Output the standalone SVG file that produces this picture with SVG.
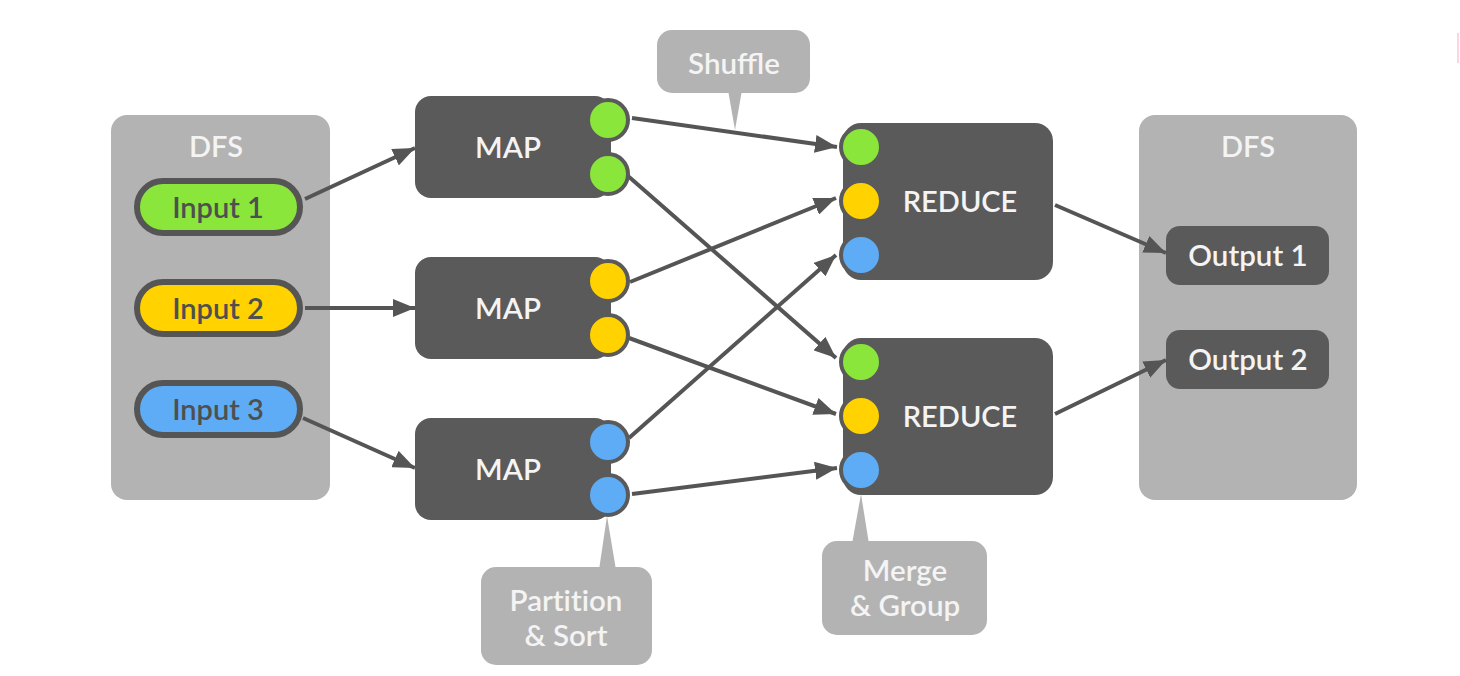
<svg xmlns="http://www.w3.org/2000/svg" width="1460" height="676" viewBox="0 0 1460 676">
<defs>
<marker id="ah" markerUnits="userSpaceOnUse" markerWidth="24" markerHeight="18" refX="22" refY="9" orient="auto">
<path d="M0,0 L22,9 L0,18 z" fill="#555555"/>
</marker>
<style>
.dfs{fill:#b3b3b3}
.dark{fill:#5a5a5a}
.pill{stroke:#555555;stroke-width:6}
.port{stroke:#5a5a5a;stroke-width:4}
.g{fill:#8ae63a}.y{fill:#ffd200}.b{fill:#5eacf5}
.t{font-family:Lato,"Liberation Sans",sans-serif;text-anchor:middle;font-weight:600}
.w{fill:#f4f4f4}
.dk{fill:#4f4f4f}
.nolig{font-variant-ligatures:none}
.conn{stroke:#555555;stroke-width:4;fill:none;marker-end:url(#ah)}
.call{fill:#b3b3b3}
</style>
</defs>
<rect x="0" y="0" width="1460" height="676" fill="#ffffff"/>
<line x1="1458" y1="33" x2="1458" y2="63" stroke="#f9c9dc" stroke-width="1.5"/>

<g id="dfs-in">
<rect class="dfs" x="111" y="115" width="219" height="385" rx="16"/>
<text class="t w" x="216" y="157" font-size="29">DFS</text>
</g>
<g id="input1"><rect class="pill g" x="137" y="181" width="163" height="52" rx="26"/><text class="t dk" x="218" y="218" font-size="29">Input 1</text></g>
<g id="input2"><rect class="pill y" x="137" y="282" width="163" height="52" rx="26"/><text class="t dk" x="218" y="319" font-size="29">Input 2</text></g>
<g id="input3"><rect class="pill b" x="137" y="383" width="163" height="52" rx="26"/><text class="t dk" x="218" y="420" font-size="29">Input 3</text></g>

<g id="dfs-out">
<rect class="dfs" x="1139" y="115" width="218" height="385" rx="16"/>
<text class="t w" x="1248" y="157" font-size="29">DFS</text>
</g>
<g id="output1"><rect class="dark" x="1166" y="226" width="163" height="59" rx="14"/><text class="t w" x="1248" y="266" font-size="29.5">Output 1</text></g>
<g id="output2"><rect class="dark" x="1166" y="330" width="163" height="59" rx="14"/><text class="t w" x="1248" y="370" font-size="29.5">Output 2</text></g>

<g id="connectors">
<path class="conn" d="M305,199 L415,148"/>
<path class="conn" d="M305,308 L415,308"/>
<path class="conn" d="M303,418 L415,468"/>
<path class="conn" d="M632,118 L837,147"/>
<path class="conn" d="M628,176 L836,358"/>
<path class="conn" d="M630,282 L836,198"/>
<path class="conn" d="M629,338 L836,414"/>
<path class="conn" d="M629,438 L836,255"/>
<path class="conn" d="M632,494 L837,468"/>
<path class="conn" d="M1055,205 L1166,253"/>
<path class="conn" d="M1055,414 L1166,360"/>
</g>

<g id="map1">
<rect class="dark" x="415" y="96" width="196" height="102" rx="16"/>
<circle class="port g" cx="608" cy="120" r="20"/><circle class="port g" cx="608" cy="174" r="20"/>
<text class="t w" x="508" y="158" font-size="29.5">MAP</text>
</g>
<g id="map2">
<rect class="dark" x="415" y="257" width="196" height="102" rx="16"/>
<circle class="port y" cx="608" cy="281" r="20"/><circle class="port y" cx="608" cy="335" r="20"/>
<text class="t w" x="508" y="319" font-size="29.5">MAP</text>
</g>
<g id="map3">
<rect class="dark" x="415" y="418" width="196" height="102" rx="16"/>
<circle class="port b" cx="608" cy="442" r="20"/><circle class="port b" cx="608" cy="495" r="20"/>
<text class="t w" x="508" y="480" font-size="29.5">MAP</text>
</g>

<g id="reduce1">
<rect class="dark" x="843" y="123" width="210" height="157" rx="18"/>
<circle class="port g" cx="861" cy="147" r="20"/><circle class="port y" cx="861" cy="201" r="20"/><circle class="port b" cx="861" cy="255" r="20"/>
<text class="t w" x="960" y="212" font-size="29">REDUCE</text>
</g>
<g id="reduce2">
<rect class="dark" x="843" y="338" width="210" height="157" rx="18"/>
<circle class="port g" cx="861" cy="362" r="20"/><circle class="port y" cx="861" cy="416" r="20"/><circle class="port b" cx="861" cy="470" r="20"/>
<text class="t w" x="960" y="427" font-size="29">REDUCE</text>
</g>

<g id="shuffle">
<path class="call" d="M728,90 L742,90 L735,130 z"/>
<rect class="call" x="657" y="30" width="153" height="63" rx="15"/>
<text class="t w" x="734" y="74" font-size="29.5">Shuffle</text>
</g>
<g id="partition">
<path class="call" d="M599,570 L616,570 L607,516 z"/>
<rect class="call" x="481" y="567" width="171" height="98" rx="15"/>
<text class="t w nolig" x="566" y="611" font-size="29.5">Partition</text>
<text class="t w" x="566" y="646" font-size="29.5">&amp; Sort</text>
</g>
<g id="merge">
<path class="call" d="M852,544 L869,544 L861,494 z"/>
<rect class="call" x="822" y="541" width="165" height="94" rx="15"/>
<text class="t w" x="905" y="581" font-size="29.5">Merge</text>
<text class="t w" x="905" y="616" font-size="29.5">&amp; Group</text>
</g>
</svg>
